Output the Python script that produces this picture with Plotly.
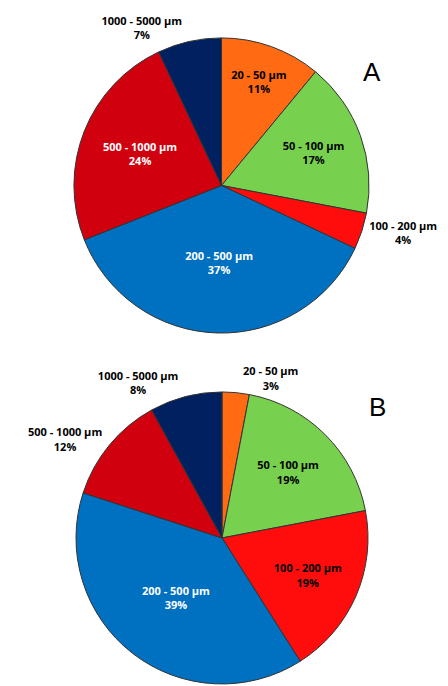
import plotly.graph_objects as go

labels = ["20 - 50 µm", "50 - 100 µm", "100 - 200 µm", "200 - 500 µm", "500 - 1000 µm", "1000 - 5000 µm"]
values_a = [11, 17, 4, 37, 24, 7]
values_b = [3, 19, 19, 39, 12, 8]
colors = ["#FF6A13", "#77D14F", "#FF0D0D", "#0070C0", "#D0000F", "#002060"]
text_colors = ["black", "black", "black", "white", "white", "white"]
pos_a = ["inside", "inside", "outside", "inside", "inside", "outside"]
pos_b = ["outside", "inside", "inside", "inside", "outside", "outside"]

W, H = 448, 686
def dom(x0, x1, y0, y1):
    return dict(x=[x0 / W, x1 / W], y=[1 - y1 / H, 1 - y0 / H])

fig = go.Figure()
for vals, pos, d in [(values_a, pos_a, dom(65, 362, 28, 324)), (values_b, pos_b, dom(68, 360, 383, 676))]:
    fig.add_trace(go.Pie(
        labels=labels, values=vals, sort=False, direction="clockwise", rotation=0,
        marker=dict(colors=colors, line=dict(color="#333333", width=1)),
        texttemplate="<b>%{label}<br>%{value}%</b>", textposition=pos,
        insidetextorientation="horizontal",
        textfont=dict(color=text_colors, size=11, family="Open Sans"),
        outsidetextfont=dict(color="black", size=11, family="Open Sans"),
        domain=d, showlegend=False, hoverinfo="label+percent"))

fig.add_annotation(x=375 / W, y=1 - 45 / H, xref="paper", yref="paper", text="A",
                   showarrow=False, font=dict(size=26, color="black", family="Liberation Sans"))
fig.add_annotation(x=380 / W, y=1 - 398 / H, xref="paper", yref="paper", text="B",
                   showarrow=False, font=dict(size=26, color="black", family="Liberation Sans"))
fig.update_layout(width=W, height=H, margin=dict(l=0, r=0, t=0, b=0),
                  paper_bgcolor="white", plot_bgcolor="white")
fig.write_html("out.html")
